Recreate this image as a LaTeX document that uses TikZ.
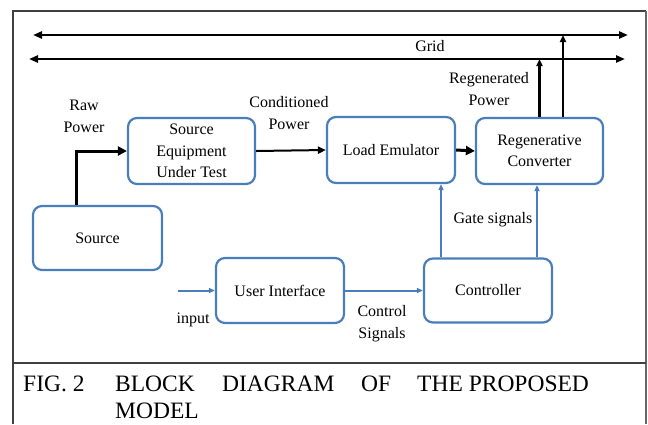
\documentclass[tikz,border=0pt]{standalone}
\usepackage{fontspec}
\setmainfont{Liberation Serif}
\newfontfamily\tnr{Liberation Serif}
\usetikzlibrary{arrows.meta,calc}
\definecolor{boxblue}{HTML}{4A7EBB}
\definecolor{framegray}{HTML}{404040}
\tikzset{
  blk/.style={draw=boxblue, line width=2.2pt, rounded corners=9pt, fill=white,
    align=center, inner sep=2pt, font=\tnr\fontsize{16}{21.5}\selectfont},
  lbl/.style={align=center, inner sep=0pt, font=\tnr\fontsize{16}{22}\selectfont},
  captext/.style={anchor=base west, inner sep=0pt, font=\tnr\fontsize{23.5}{27}\selectfont},
  gridline/.style={line width=2.4pt, {Triangle[length=9pt,width=7pt]}-{Triangle[length=9pt,width=7pt]}},
  powarrow/.style={line width=3pt, -{Triangle[length=9pt,width=9pt]}},
  condarrow/.style={line width=2pt, -{Triangle[length=8pt,width=7pt]}},
  uparrow/.style={line width=2.6pt, -{Triangle[length=7pt,width=6pt]}},
  sigarrow/.style={draw=boxblue, line width=2pt, -{Triangle[length=6pt,width=5pt]}},
}
\begin{document}
\begin{tikzpicture}[x=1pt,y=-1pt]
\useasboundingbox (0,0) rectangle (648,424);
% frame
\draw[framegray, line width=1.2pt] (13,424) -- (13,11) -- (646,11);
\draw[framegray!80, line width=2.2pt] (646,11) -- (646,424);
\draw[framegray, line width=1.2pt] (13,363) -- (646,363);

% grid lines
\coordinate (g1L) at (33,35);
\coordinate (g1R) at (628,35);
\coordinate (g2L) at (29,59);
\coordinate (g2R) at (625,59);
\draw[gridline] (g1L) -- (g1R);
\draw[gridline] (g2L) -- (g2R);
\node[lbl] (grid) at (430,46) {Grid};

% blocks
\node[blk, minimum width=127pt, minimum height=66pt] (se) at (191.5,151) {Source\\Equipment\\Under Test};
\node[blk, minimum width=128pt, minimum height=66pt] (le) at (391,150) {Load Emulator};
\node[blk, minimum width=127pt, minimum height=66pt] (rc) at (539.5,151) {Regenerative\\Converter};
\node[blk, minimum width=129pt, minimum height=64pt] (src) at (97.5,238) {Source};
\node[blk, minimum width=128pt, minimum height=65pt] (ui) at (280,290.5) {User Interface};
\node[blk, minimum width=128pt, minimum height=64pt] (ctrl) at (488,290.5) {Controller};

% power path
\draw[powarrow] ([xshift=-21.5pt]src.north) |- (se.west);
\draw[condarrow] (se.east) -- (le.west);
\draw[powarrow] (le.east) -- (rc.west);
\coordinate (up1) at (rc.north);
\coordinate (up2) at ([xshift=23.5pt]rc.north);
\draw[uparrow] (up1) -- (up1 |- g2L);
\draw[uparrow] (up2) -- (up2 |- g1L);

% signals
\coordinate (in) at (178,290.5);
\draw[sigarrow] (in) -- (ui.west);
\draw[sigarrow] (ui.east) -- (ctrl.west);
\coordinate (gs1) at ([xshift=-47pt]ctrl.north);
\coordinate (gs2) at ([xshift=49pt]ctrl.north);
\draw[sigarrow] (gs1) -- (gs1 |- le.south);
\draw[sigarrow] (gs2) -- (gs2 |- rc.south);

% labels
\node[lbl] (lraw) at (84,116) {Raw\\Power};
\node[lbl] (lcond) at (289,113.5) {Conditioned\\Power};
\node[lbl] (lregen) at (489,89) {Regenerated\\Power};
\node[lbl] (lgate) at (493,220) {Gate signals};
\node[lbl] (linput) at (193,320) {input};
\node[lbl] (lctrl) at (382,324) {Control\\Signals};

% caption
\node[captext] (c1) at (23,391) {FIG. 2};
\node[captext] (c2) at (115,391) {BLOCK};
\node[captext] (c3) at (222,391) {DIAGRAM};
\node[captext] (c4) at (361,391) {OF};
\node[captext] (c5) at (417,391) {THE PROPOSED};
\node[captext] (c6) at (115,418) {MODEL};
\end{tikzpicture}
\end{document}
